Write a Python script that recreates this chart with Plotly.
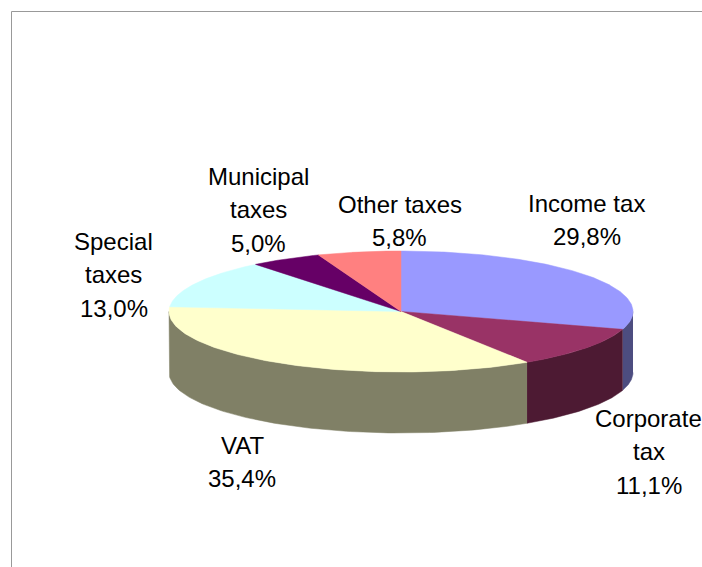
import numpy as np
import plotly.graph_objects as go

# Data
categories = ["Income tax", "Corporate tax", "VAT", "Special taxes", "Municipal taxes", "Other taxes"]
values = [29.8, 11.1, 35.4, 13.0, 5.0, 5.8]
top_colors = ["#9999ff", "#993366", "#ffffcc", "#ccffff", "#660066", "#ff8080"]
side_colors = ["#4d4d80", "#4d1a33", "#808066", "#668080", "#330033", "#804040"]
label_lines = [["Income tax"], ["Corporate", "tax"], ["VAT"], ["Special", "taxes"], ["Municipal", "taxes"], ["Other taxes"]]

# Layout geometry of the projected pie (pixels)
W, H = 702, 567
CX, CY, RX, RY, DEPTH = 401, 311.5, 232, 60.5, 61
label_anchor = [(586.5, 203), (648.5, 418), (242, 445), (113.5, 241), (258.5, 176), (399.5, 204)]
FONT = dict(family="Liberation Sans, Arial, sans-serif", size=24, color="#000000")
LINE_GAP = 33.5

fracs = np.array(values) / sum(values)
edges = np.concatenate([[0], np.cumsum(fracs)]) * 2 * np.pi


def px(t):
    return CX + RX * np.sin(t)


def py(t):
    return CY - RY * np.cos(t)


fig = go.Figure()

# Outer walls (front-facing part of each slice)
for i, col in enumerate(side_colors):
    a, b = max(edges[i], np.pi / 2), min(edges[i + 1], 3 * np.pi / 2)
    if a >= b:
        continue
    t = np.linspace(a, b, 120)
    xs = np.concatenate([px(t), px(t[::-1])])
    ys = np.concatenate([py(t), py(t[::-1]) + DEPTH])
    fig.add_trace(go.Scatter(x=xs, y=ys, fill="toself", fillcolor=col, mode="lines",
                             line=dict(color=col, width=0.5), hoverinfo="skip", showlegend=False))

# Top faces
for i, col in enumerate(top_colors):
    t = np.linspace(edges[i], edges[i + 1], 160)
    xs = np.concatenate([[CX], px(t), [CX]])
    ys = np.concatenate([[CY], py(t), [CY]])
    fig.add_trace(go.Scatter(x=xs, y=ys, fill="toself", fillcolor=col, mode="lines",
                             line=dict(color=col, width=0.5), hoverinfo="skip", showlegend=False))

# Labels, one annotation per line so the line spacing follows the reference
for lines, v, (lx, ly) in zip(label_lines, values, label_anchor):
    rows = lines + [f"{v:.1f}%".replace(".", ",")]
    for k, row in enumerate(rows):
        fig.add_annotation(x=lx, y=ly + k * LINE_GAP, text=row, showarrow=False,
                           font=FONT, xanchor="center", yanchor="middle")

# Chart-area border: top and left edges only
BORDER = dict(color="#999999", width=1)
fig.add_shape(type="line", x0=11.5, x1=W, y0=11.5, y1=11.5, line=BORDER)
fig.add_shape(type="line", x0=11.5, x1=11.5, y0=11.5, y1=H, line=BORDER)

fig.update_xaxes(visible=False, range=[0, W], fixedrange=True)
fig.update_yaxes(visible=False, range=[H, 0], fixedrange=True)
fig.update_layout(width=W, height=H, margin=dict(l=0, r=0, t=0, b=0),
                  paper_bgcolor="#ffffff", plot_bgcolor="#ffffff", showlegend=False)

fig.write_html("out.html", config={"displayModeBar": False},
               post_script="document.body.style.margin='0';document.body.style.overflow='hidden';")
